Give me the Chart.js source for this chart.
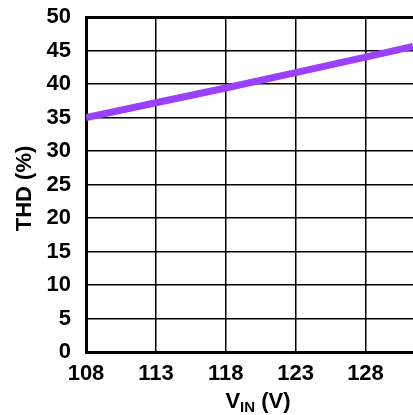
<!DOCTYPE html>
<html>
<head>
<meta charset="utf-8">
<script src="https://cdn.jsdelivr.net/npm/chart.js@4/dist/chart.umd.min.js"></script>
<style>
  html, body { margin: 0; padding: 0; background: #fff; }
  #wrap { width: 413px; height: 415px; position: relative; }
</style>
</head>
<body>
<div id="wrap"><canvas id="chart"></canvas></div>
<script>
// THD vs input voltage
const vin = [108, 113, 118, 123, 128, 131.4];
const thd = [35.0, 37.2, 39.4, 41.7, 44.0, 45.6];
const xTicks = [108, 113, 118, 123, 128];
const yTicks = [0, 5, 10, 15, 20, 25, 30, 35, 40, 45, 50];

const FONT = 'Liberation Sans, Arial, sans-serif';

// axis titles drawn by hand so the subscript fits
const titles = {
  id: 'titles',
  afterDraw(chart) {
    const ctx = chart.ctx;
    const area = chart.chartArea;
    ctx.save();
    ctx.fillStyle = '#000';
    ctx.textBaseline = 'middle';

    // x title: V_IN (V)
    const big = 'bold 22px ' + FONT;
    const small = 'bold 15px ' + FONT;
    ctx.font = big;
    const wV = ctx.measureText('V').width;
    const wRest = ctx.measureText(' (V)').width;
    ctx.font = small;
    const wIN = ctx.measureText('IN').width;
    let x = 258 - (wV + wIN + wRest) / 2;
    const y = 402;
    ctx.textAlign = 'left';
    ctx.font = big;
    ctx.fillText('V', x, y);
    x += wV;
    ctx.font = small;
    ctx.fillText('IN', x, y + 6);
    x += wIN;
    ctx.font = big;
    ctx.fillText(' (V)', x, y);

    // y title
    ctx.translate(25, (area.top + area.bottom) / 2 + 4);
    ctx.rotate(-Math.PI / 2);
    ctx.textAlign = 'center';
    ctx.font = big;
    ctx.fillText('THD (%)', 0, 0);
    ctx.restore();
  }
};

new Chart(document.getElementById('chart').getContext('2d'), {
  type: 'line',
  data: {
    datasets: [{
      data: vin.map((v, i) => ({ x: v, y: thd[i] })),
      borderColor: '#9a40ff',
      borderWidth: 7,
      pointRadius: 0,
      tension: 0,
      fill: false
    }]
  },
  plugins: [titles],
  options: {
    responsive: true,
    maintainAspectRatio: false,
    animation: false,
    layout: { padding: { top: 17, left: 0, right: 0, bottom: 0 } },
    plugins: { legend: { display: false }, tooltip: { enabled: false } },
    scales: {
      x: {
        type: 'linear',
        min: 108,
        max: 131.4,
        afterBuildTicks: s => { s.ticks = xTicks.map(v => ({ value: v })); },
        afterFit: s => { s.height = 63; s.paddingLeft = 0; s.paddingRight = 0; },
        grid: { color: '#000', lineWidth: 1.5, drawTicks: false },
        border: { color: '#000', width: 3 },
        ticks: {
          color: '#000',
          padding: 9,
          maxRotation: 0,
          autoSkip: false,
          font: { family: FONT, size: 22, weight: 'bold' }
        }
      },
      y: {
        min: 0,
        max: 50,
        afterBuildTicks: s => { s.ticks = yTicks.map(v => ({ value: v })); },
        afterFit: s => { s.width = 86; s.paddingTop = 0; s.paddingBottom = 0; },
        grid: {
          color: '#000',
          lineWidth: c => (c.tick && c.tick.value === 50 ? 3 : 1.5),
          drawTicks: false
        },
        border: { color: '#000', width: 3 },
        ticks: {
          color: '#000',
          padding: 15,
          autoSkip: false,
          font: { family: FONT, size: 22, weight: 'bold' }
        }
      }
    }
  }
});
</script>
</body>
</html>
